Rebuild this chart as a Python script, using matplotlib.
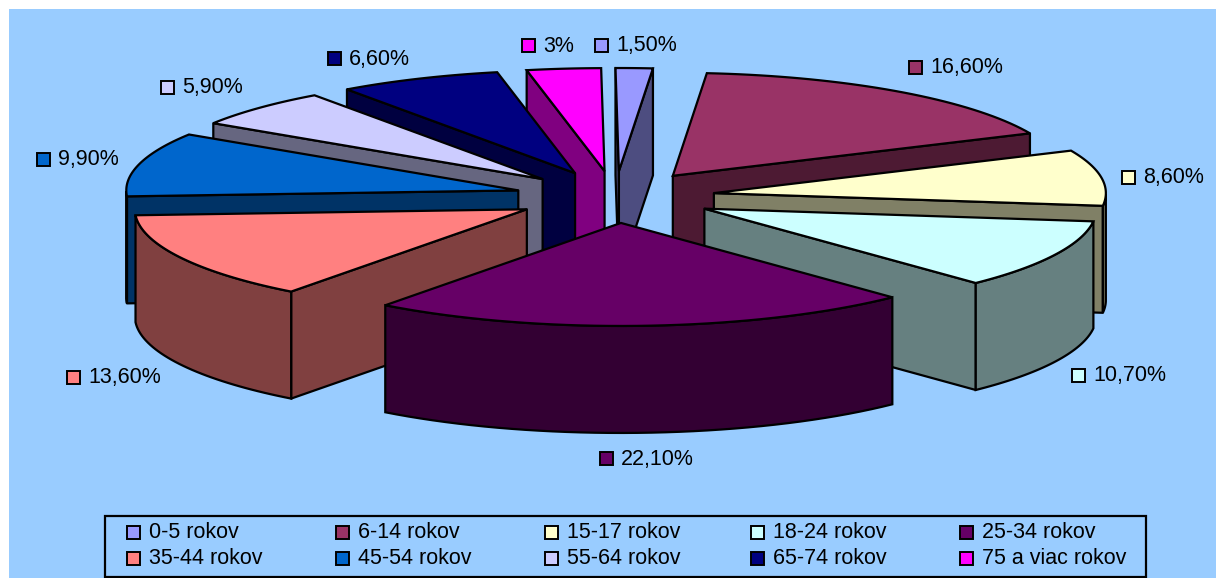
import numpy as np
import matplotlib.pyplot as plt
from matplotlib.patches import Polygon, Rectangle
from matplotlib.colors import to_rgb

plt.rcParams['font.family'] = ['Liberation Sans', 'DejaVu Sans']

categories = ['0-5 rokov', '6-14 rokov', '15-17 rokov', '18-24 rokov', '25-34 rokov',
              '35-44 rokov', '45-54 rokov', '55-64 rokov', '65-74 rokov', '75 a viac rokov']
values = [1.5, 16.6, 8.6, 10.7, 22.1, 13.6, 9.9, 5.9, 6.6, 3]
labels = ['1,50%', '16,60%', '8,60%', '10,70%', '22,10%', '13,60%', '9,90%', '5,90%', '6,60%', '3%']
colors = ['#9999FF', '#993366', '#FFFFCC', '#CCFFFF', '#660066',
          '#FF8080', '#0066CC', '#CCCCFF', '#000080', '#FF00FF']

# swatch centre of each value label, in pixels
label_pos = [(601, 45), (915, 67), (1128, 177), (1078, 375), (606, 458),
             (73, 377), (43, 159), (167, 87), (334, 58), (528, 45)]

# back to front
draw_order = [9, 0, 8, 7, 1, 6, 2, 5, 3, 4]

# pie geometry, pixels
cx, cy = 615, 197
a, b = 392, 103
ex, ey = 100, 26
depth = 107
start = np.radians(-0.5)

fig = plt.figure(figsize=(12.16, 5.78), dpi=100, facecolor='white')
ax = fig.add_axes([0, 0, 1, 1])
ax.set_xlim(0, 1216)
ax.set_ylim(578, 0)
ax.axis('off')

ax.add_patch(Rectangle((9, 9), 1207, 569, fc='#99CCFF', ec='none', zorder=0))


def pt(t, r=1.0):
    return np.array([a*r*np.sin(t), -b*r*np.cos(t)])


def dark(c):
    return tuple(v*0.5 for v in to_rgb(c))


def wall(p, q, c, z):
    ax.add_patch(Polygon([p, q, q+[0, depth], p+[0, depth]], closed=True, fc=dark(c),
                         ec='k', lw=1.6, joinstyle='round', zorder=z))


edges = np.cumsum([0]+values)/np.sum(values)*2*np.pi + start

for z, i in enumerate(draw_order):
    z = z+2
    t0, t1 = edges[i], edges[i+1]
    tm = (t0+t1)/2
    apex = np.array([cx+ex*np.sin(tm), cy-ey*np.cos(tm)])
    ts = np.linspace(t0, t1, 40)
    rim = np.array([apex+pt(t) for t in ts])
    c = colors[i]

    # only faces turned to the viewer
    if np.sin(t0) < 0:
        wall(apex, rim[0], c, z)
    if np.sin(t1) > 0:
        wall(rim[-1], apex, c, z)
    low = np.cos(ts) < 0
    if low.any():
        r = rim[low]
        poly = np.vstack([r, (r+[0, depth])[::-1]])
        ax.add_patch(Polygon(poly, closed=True, fc=dark(c), ec='k', lw=1.6, zorder=z))
    ax.add_patch(Polygon(np.vstack([apex, rim]), closed=True, fc=c, ec='k', lw=1.6, zorder=z))

for (x, y), lab, c in zip(label_pos, labels, colors):
    ax.add_patch(Rectangle((x-6.5, y-6.5), 13, 13, fc=c, ec='k', lw=1.4, zorder=20))
    ax.text(x+15, y+1, lab, fontsize=15.5, va='center', ha='left', color='k', zorder=20)

# legend box
ax.add_patch(Rectangle((105, 516), 1041, 61, fc='none', ec='k', lw=1.6, zorder=20))
col_x = [127, 336, 545, 751, 960]
row_y = [532, 558]
for i, (name, c) in enumerate(zip(categories, colors)):
    x = col_x[i % 5]
    y = row_y[i // 5]
    ax.add_patch(Rectangle((x, y-6.5), 13, 13, fc=c, ec='k', lw=1.4, zorder=20))
    ax.text(x+22, y+1, name, fontsize=15.5, va='center', ha='left', color='k', zorder=20)

plt.savefig('out.png', dpi=100)
